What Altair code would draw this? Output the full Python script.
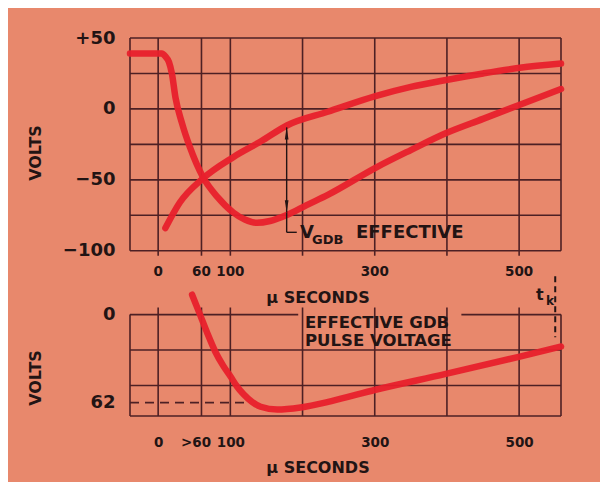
import altair as alt
import pandas as pd

# ---------------- data ----------------
# top panel: curve with the flat start (volts vs microseconds)
curve_a_t = [-39, 5, 10, 15, 19, 24, 33, 44, 62, 82, 104, 120, 137, 155, 179, 205, 235, 303, 350, 399, 450, 501, 558]
curve_a_v = [39, 39, 37, 33, 25, 8, -10, -27, -48, -62, -73, -78, -80.3, -79, -74.6, -68, -60.6, -41, -29, -17, -7, 3, 14]
# top panel: rising curve
curve_b_t = [10, 30, 62, 104, 142, 179, 235, 301, 350, 399, 450, 501, 558]
curve_b_v = [-84, -66, -49, -34, -23, -11.5, -2, 9, 15.5, 20.4, 25, 29, 32]
# bottom panel: effective GDB pulse voltage (magnitude, axis runs downward)
curve_c_t = [47, 58, 68, 79, 90, 100, 109, 118, 130, 142, 165, 197, 240, 301, 397, 501, 558]
curve_c_v = [-14, 0, 13, 26, 36, 43.5, 50.5, 56, 61.5, 65, 67, 65.5, 61, 53, 42, 29.6, 22.5]

x_ticks = [0, 60, 100, 300, 500]
x_top_labels = ["0", "60", "100", "300", "500"]
x_bottom_labels = ["0", ">60", "100", "300", "500"]
x_grid = [0, 60, 100, 200, 300, 400, 500]
x_range = [-39, 558]

top_y_ticks = [50, 0, -50, -100]
top_y_labels = ["+50", "0", "\u2212" + "50", "\u2212" + "100"]
top_y_grid = [50, 25, 0, -25, -50, -75, -100]

bottom_y_ticks = [0, 62]
bottom_y_labels = ["0", "62"]
bottom_y_grid = [25, 50]
bottom_floor = 71.5
gdb_level = 62
vgdb_t = 178
vgdb_top = -13
vgdb_bottom = -73
tk_t = 550

# ---------------- layout helpers ----------------
OFF = -145.0  # bottom panel value v is drawn at OFF - v on the shared scale
def bot(v):
    return OFF - v

y_floor = bot(bottom_floor)
ink = "#221414"
grid_col = "#4d2024"
red = "#e8202c"
bg = "#e8886c"
FONT = "DejaVu Sans"

xs = alt.Scale(domain=x_range, nice=False, zero=False)
ys = alt.Scale(domain=[y_floor, 50], nice=False, zero=False)

y_vals = top_y_ticks + [bot(v) for v in bottom_y_ticks]
y_labs = top_y_labels + bottom_y_labels
y_expr = " : ".join(f"datum.value === {v} ? '{l}'" for v, l in zip(y_vals, y_labs)) + " : ''"
x_expr = " : ".join(f"datum.value === {v} ? '{l}'" for v, l in zip(x_ticks, x_bottom_labels)) + " : ''"

# '>' hangs to the left of the centred number, as in the original
x_axis = alt.Axis(values=x_ticks, labelExpr=x_expr, title=None, domain=False, ticks=False, grid=False,
                  labelPadding=19, labelFontSize=13.5, labelFont=FONT, labelFontWeight="bold",
                  labelColor=ink, labelOverlap=False, labelFlush=False,
                  labelOffset=alt.condition("datum.value === 60", alt.value(-6), alt.value(0)))
y_axis = alt.Axis(values=y_vals, labelExpr=y_expr, title=None, domain=False, ticks=False, grid=False,
                  labelPadding=15, labelFontSize=18, labelFont=FONT, labelFontWeight="bold",
                  labelColor=ink, labelOverlap=False, labelFlush=False, labelBaseline="middle")

def X(f):
    return alt.X(f, type="quantitative", scale=xs, axis=x_axis)
def Y(f):
    return alt.Y(f, type="quantitative", scale=ys, axis=y_axis)

# ---------------- grid tables ----------------
h_rows = [dict(t=x_range[0], t2=x_range[1], v=g) for g in top_y_grid]
h_rows += [dict(t=x_range[0], t2=x_range[1], v=bot(g)) for g in bottom_y_grid + [bottom_floor]]
h_rows += [dict(t=x_range[0], t2=194, v=bot(0)), dict(t=420, t2=x_range[1], v=bot(0))]
hgrid = pd.DataFrame(h_rows)

v_rows = [dict(t=g, v=-103.5, v2=50) for g in x_grid]
v_rows += [dict(t=x_range[0], v=-100, v2=50), dict(t=x_range[1], v=-100, v2=50)]
v_rows += [dict(t=g, v=bot(-5), v2=y_floor) for g in x_grid]
v_rows += [dict(t=x_range[0], v=bot(0), v2=y_floor), dict(t=x_range[1], v=bot(0), v2=y_floor)]
vgrid = pd.DataFrame(v_rows)

h_layer = alt.Chart(hgrid).mark_rule(color=grid_col, strokeWidth=1.6).encode(
    x=X("t"), x2="t2", y=Y("v"))
v_layer = alt.Chart(vgrid).mark_rule(color=grid_col, strokeWidth=1.6).encode(
    x=X("t"), y=Y("v"), y2="v2")

dash = pd.DataFrame([dict(t=x_range[0], t2=126, v=bot(gdb_level))])
dash_layer = alt.Chart(dash).mark_rule(color=grid_col, strokeWidth=1.8, strokeDash=[9, 6]).encode(
    x=X("t"), x2="t2", y=Y("v"))

# ---------------- curves ----------------
curves = pd.concat([
    pd.DataFrame({"t": curve_a_t, "v": curve_a_v, "c": "a"}),
    pd.DataFrame({"t": curve_b_t, "v": curve_b_v, "c": "b"}),
    pd.DataFrame({"t": curve_c_t, "v": [bot(v) for v in curve_c_v], "c": "c"}),
], ignore_index=True)
curve_layer = alt.Chart(curves).mark_line(
    color=red, strokeWidth=6.5, interpolate="monotone", strokeCap="round", strokeJoin="round", opacity=0.95
).encode(x=X("t"), y=Y("v"), detail="c:N")

# ---------------- V_GDB arrow and bracket ----------------
arrow = pd.DataFrame([
    dict(t=vgdb_t, v=vgdb_top, t2=vgdb_t, v2=vgdb_bottom),
    dict(t=vgdb_t, v=vgdb_bottom, t2=vgdb_t, v2=-87),
    dict(t=vgdb_t, v=-87, t2=192, v2=-87),
])
arrow_layer = alt.Chart(arrow).mark_rule(color=ink, strokeWidth=1.4).encode(
    x=X("t"), y=Y("v"), x2="t2", y2="v2")
heads = pd.DataFrame([dict(t=vgdb_t, v=vgdb_top - 4.3, s="up"), dict(t=vgdb_t, v=vgdb_bottom + 4.3, s="down")])
up_layer = alt.Chart(heads[heads.s == "up"]).mark_point(
    shape="M0,-1L0.3,1L-0.3,1Z", filled=True, size=150, color=ink, opacity=1, strokeWidth=0
).encode(x=X("t"), y=Y("v"))
down_layer = alt.Chart(heads[heads.s == "down"]).mark_point(
    shape="M0,1L0.3,-1L-0.3,-1Z", filled=True, size=150, color=ink, opacity=1, strokeWidth=0
).encode(x=X("t"), y=Y("v"))

# t_k marker
tk = pd.DataFrame([dict(t=tk_t, v=-118, v2=-161)])
tk_layer = alt.Chart(tk).mark_rule(color=ink, strokeWidth=2, strokeDash=[6, 4]).encode(
    x=X("t"), y=Y("v"), y2="v2")

# ---------------- texts ----------------
top_ticks = pd.DataFrame({"t": x_ticks, "lab": x_top_labels})
top_tick_layer = alt.Chart(top_ticks).mark_text(
    font=FONT, fontSize=13.5, fontWeight="bold", color=ink, baseline="middle"
).encode(x=X("t"), y=alt.value(234), text="lab:N")

def txt(s, x, y, size=17, align="left", angle=0, baseline="alphabetic"):
    return alt.Chart(pd.DataFrame({"s": [s]})).mark_text(
        font=FONT, fontSize=size, fontWeight="bold", color=ink, align=align,
        baseline=baseline, angle=angle
    ).encode(x=alt.value(x), y=alt.value(y), text="s:N")

texts = [
    txt("VOLTS", -94, 115, size=16, align="center", angle=270, baseline="middle"),
    txt("VOLTS", -94, 340, size=16, align="center", angle=270, baseline="middle"),
    txt("\u03bc SECONDS", 188, 260, size=16, align="center", baseline="middle"),
    txt("\u03bc SECONDS", 188, 430, size=16, align="center", baseline="middle"),
    txt("V", 170, 200, size=18),
    txt("GDB", 182, 206, size=13),
    txt("EFFECTIVE", 226, 200, size=18),
    txt("EFFECTIVE GDB", 175, 284.5, size=16.5, baseline="middle"),
    txt("PULSE VOLTAGE", 175, 302.5, size=16.5, baseline="middle"),
    txt("t", 406, 262, size=16),
    txt("k", 416, 267, size=12),
]

chart = alt.layer(
    h_layer, v_layer, dash_layer, curve_layer, arrow_layer, up_layer, down_layer, tk_layer,
    top_tick_layer, *texts
).properties(
    width=431, height=378,
    autosize=alt.AutoSizeParams(type="none"),
    padding={"left": 122, "top": 30, "right": 39, "bottom": 66},
    background=bg,
).configure_view(stroke=None)

chart.save("out.html", embed_options={"renderer": "svg", "actions": False})
